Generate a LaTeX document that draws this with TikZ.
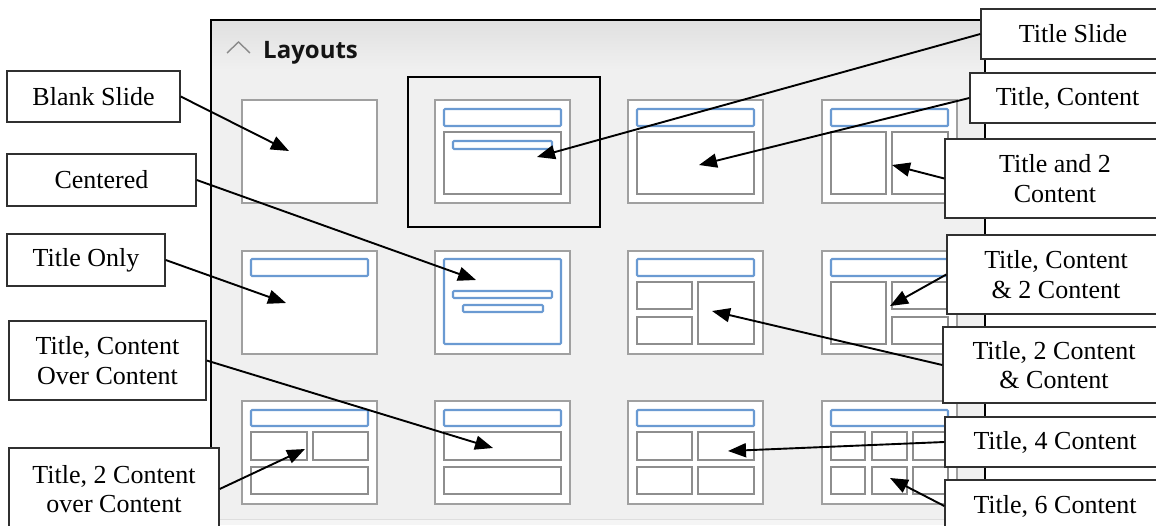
\documentclass[tikz,border=0pt]{standalone}
\usepackage{fontspec}
\setmainfont{Liberation Serif}
\newfontfamily\uifont{Open Sans}
\usetikzlibrary{arrows.meta}
\definecolor{panelbg}{HTML}{F0F0F0}
\definecolor{headtop}{HTML}{E0E0E0}
\definecolor{thumbgray}{HTML}{A0A0A0}
\definecolor{boxgray}{HTML}{8E8E8E}
\definecolor{blueedge}{HTML}{6A9AD2}
\definecolor{lblborder}{HTML}{303030}
\definecolor{chevgray}{HTML}{8A8A8A}
\begin{document}
\begin{tikzpicture}[x=1pt,y=-1pt,
  lbl/.style={draw=lblborder, line width=1.4pt, fill=white, inner sep=0pt, align=center, font=\fontsize{26}{29.5}\selectfont},
  arr/.style={line width=1.9pt, -{Triangle[length=18pt,width=14pt]}},
  thumbout/.style={draw=thumbgray, fill=white, line width=2.5pt},
  gbox/.style={draw=boxgray, fill=white, line width=2.1pt},
  bbox/.style={draw=blueedge, fill=white, line width=2.1pt, rounded corners=1pt},
  selframe/.style={draw=black, line width=2.2pt}
]
\useasboundingbox (0,0) rectangle (1156,525);
% ---------- panel ----------
\fill[panelbg] (211,20) rectangle (985,525);
\shade[top color=headtop, bottom color=panelbg] (211,20) rectangle (985,70);
\fill[black!4] (211,519) rectangle (985,525);
\draw[line width=1pt, draw=black!13] (211,519) -- (985,519);
\draw[line width=1.6pt] (211,525) -- (211,20) -- (985,20) -- (985,525);
% header
\draw[chevgray, line width=1.4pt] (227,53) -- (238.5,42) -- (250,53);
\node[anchor=base west, inner sep=0pt, text=black!92, font=\uifont\bfseries\fontsize{24}{28}\selectfont] (hdr) at (263,58) {Layouts};
% ---------- thumbnails ----------
% row 1
\begin{scope}[shift={(242,100)}]
  \draw[thumbout] (0,0) rectangle (135,103);
\end{scope}
\draw[selframe] (408,77) rectangle (600,227);
\begin{scope}[shift={(435,100)}]
  \draw[thumbout] (0,0) rectangle (135,103);
  \draw[bbox] (9,9) rectangle (126,26);
  \draw[gbox] (9,32) rectangle (126,94);
  \draw[bbox] (18,41) rectangle (117,49);
\end{scope}
\begin{scope}[shift={(628,100)}]
  \draw[thumbout] (0,0) rectangle (135,103);
  \draw[bbox] (9,9) rectangle (126,26);
  \draw[gbox] (9,32) rectangle (126,94);
\end{scope}
\begin{scope}[shift={(822,100)}]
  \draw[thumbout] (0,0) rectangle (135,103);
  \draw[bbox] (9,9) rectangle (126,26);
  \draw[gbox] (9,32) rectangle (64,94);
  \draw[gbox] (70,32) rectangle (126,94);
\end{scope}
% row 2
\begin{scope}[shift={(242,251)}]
  \draw[thumbout] (0,0) rectangle (135,103);
  \draw[bbox] (9,8) rectangle (126,25);
\end{scope}
\begin{scope}[shift={(435,251)}]
  \draw[thumbout] (0,0) rectangle (135,103);
  \draw[bbox] (9,8) rectangle (126,93);
  \draw[bbox] (18,40) rectangle (117,47);
  \draw[bbox] (28,54) rectangle (108,61);
\end{scope}
\begin{scope}[shift={(628,251)}]
  \draw[thumbout] (0,0) rectangle (135,103);
  \draw[bbox] (9,8) rectangle (126,25);
  \draw[gbox] (9,31) rectangle (64,58);
  \draw[gbox] (9,66) rectangle (64,93);
  \draw[gbox] (70,31) rectangle (126,93);
\end{scope}
\begin{scope}[shift={(822,251)}]
  \draw[thumbout] (0,0) rectangle (135,103);
  \draw[bbox] (9,8) rectangle (126,25);
  \draw[gbox] (9,31) rectangle (64,93);
  \draw[gbox] (70,31) rectangle (126,58);
  \draw[gbox] (70,66) rectangle (126,93);
\end{scope}
% row 3
\begin{scope}[shift={(242,401)}]
  \draw[thumbout] (0,0) rectangle (135,103);
  \draw[bbox] (9,9) rectangle (126,25);
  \draw[gbox] (9,31) rectangle (65,59);
  \draw[gbox] (71,31) rectangle (126,59);
  \draw[gbox] (9,66) rectangle (126,93);
\end{scope}
\begin{scope}[shift={(435,401)}]
  \draw[thumbout] (0,0) rectangle (135,103);
  \draw[bbox] (9,9) rectangle (126,25);
  \draw[gbox] (9,31) rectangle (126,59);
  \draw[gbox] (9,66) rectangle (126,93);
\end{scope}
\begin{scope}[shift={(628,401)}]
  \draw[thumbout] (0,0) rectangle (135,103);
  \draw[bbox] (9,9) rectangle (126,25);
  \draw[gbox] (9,31) rectangle (64,59);
  \draw[gbox] (70,31) rectangle (126,59);
  \draw[gbox] (9,66) rectangle (64,93);
  \draw[gbox] (70,66) rectangle (126,93);
\end{scope}
\begin{scope}[shift={(822,401)}]
  \draw[thumbout] (0,0) rectangle (135,103);
  \draw[bbox] (9,9) rectangle (126,25);
  \draw[gbox] (9,31) rectangle (43,59);
  \draw[gbox] (50,31) rectangle (85,59);
  \draw[gbox] (91,31) rectangle (126,59);
  \draw[gbox] (9,66) rectangle (43,93);
  \draw[gbox] (50,66) rectangle (85,93);
  \draw[gbox] (91,66) rectangle (126,93);
\end{scope}
% ---------- labels ----------
\node[lbl, minimum width=173pt, minimum height=51pt] (blank) at (93.5,96.5) {Blank Slide};
\node[lbl, minimum width=189pt, minimum height=52pt] (centered) at (101.5,180) {Centered};
\node[lbl, minimum width=158pt, minimum height=52pt] (tonly) at (86,260) {Title Only};
\node[lbl, minimum width=197pt, minimum height=79pt] (tcoc) at (107.5,360.5) {Title, Content\\Over Content};
\node[lbl, minimum width=210pt, minimum height=82pt] (t2coc) at (114,489) {Title, 2 Content\\over Content};
\node[lbl, minimum width=184pt, minimum height=50pt] (tslide) at (1073,34) {Title Slide};
\node[lbl, minimum width=195pt, minimum height=50pt] (tcont) at (1067.5,98) {Title, Content};
\node[lbl, minimum width=220pt, minimum height=79pt] (tand2) at (1055,178.5) {Title and 2\\Content};
\node[lbl, minimum width=218pt, minimum height=79pt] (tc2c) at (1056,274.5) {Title, Content\\\&~2 Content};
\node[lbl, minimum width=222pt, minimum height=76pt] (t2cc) at (1054,365) {Title, 2 Content\\\&~Content};
\node[lbl, minimum width=220pt, minimum height=50pt] (t4c) at (1055,442) {Title, 4 Content};
\node[lbl, minimum width=220pt, minimum height=52pt] (t6c) at (1055,506) {Title, 6 Content};
% ---------- arrow targets ----------
\coordinate (p1) at (289,151);
\coordinate (p2) at (537,157);
\coordinate (p3) at (699,165);
\coordinate (p4) at (892,165);
\coordinate (p5) at (476,280);
\coordinate (p6) at (286,303);
\coordinate (p7) at (493,448);
\coordinate (p8) at (305,449);
\coordinate (p9) at (890,306);
\coordinate (p10) at (712,311);
\coordinate (p11) at (728,451);
\coordinate (p12) at (890,478);
% ---------- arrows ----------
\draw[arr] (blank.east) -- (p1);
\draw[arr] (tslide.west) -- (p2);
\draw[arr] (tcont.west) -- (p3);
\draw[arr] (tand2.west) -- (p4);
\draw[arr] (centered.east) -- (p5);
\draw[arr] (tonly.east) -- (p6);
\draw[arr] (tcoc.east) -- (p7);
\draw[arr] (t2coc.east) -- (p8);
\draw[arr] (tc2c.west) -- (p9);
\draw[arr] (t2cc.west) -- (p10);
\draw[arr] (t4c.west) -- (p11);
\draw[arr] (t6c.west) -- (p12);
\end{tikzpicture}
\end{document}
